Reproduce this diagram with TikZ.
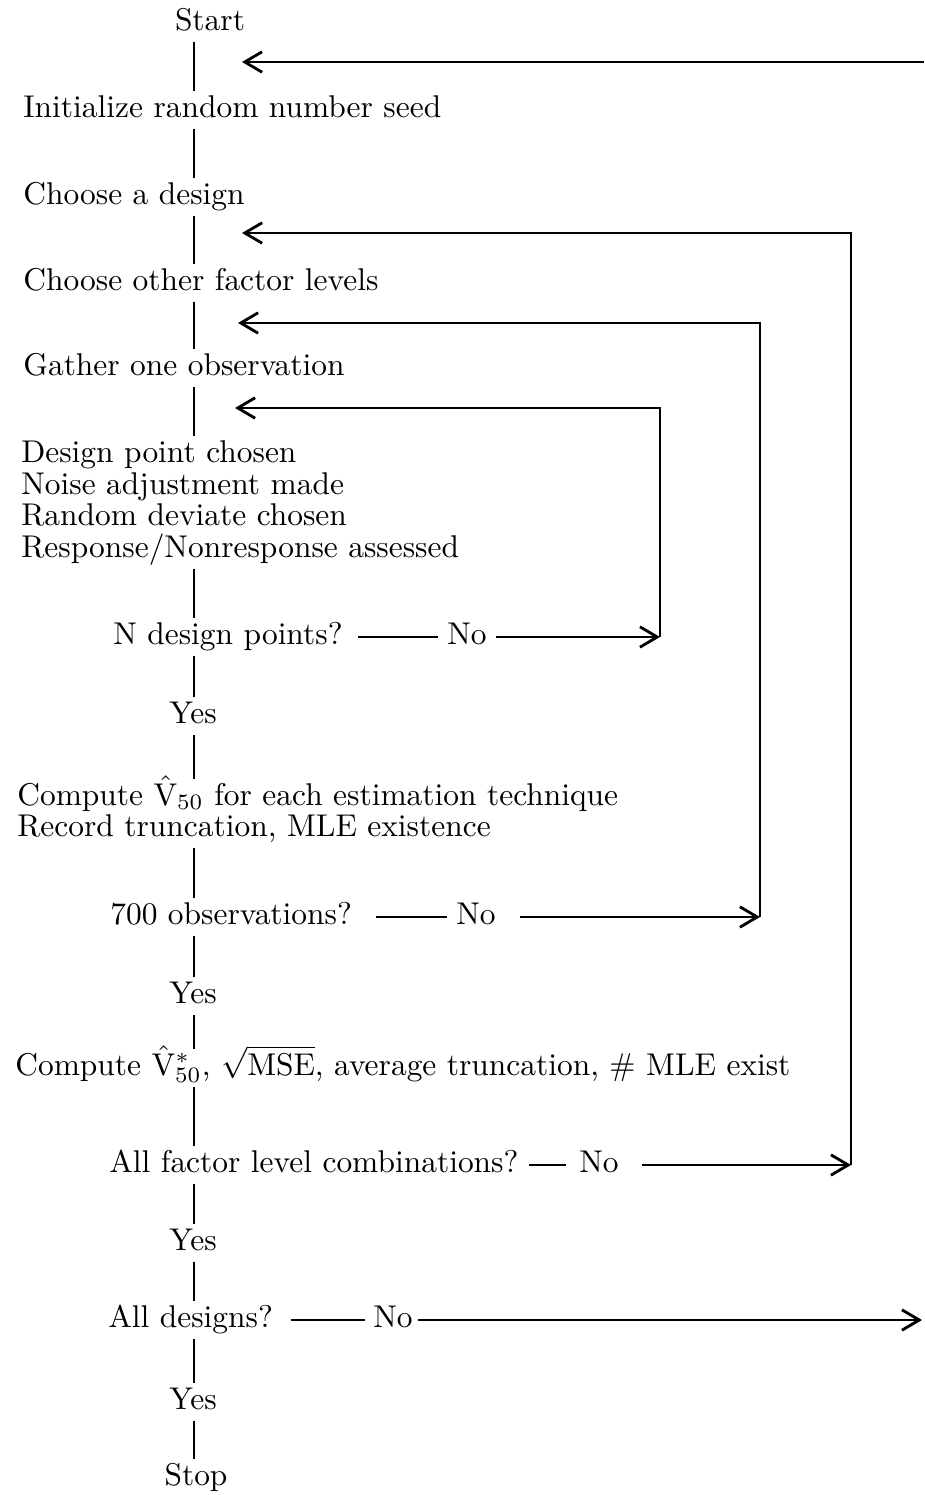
\documentclass[tikz,border=0pt]{standalone}
\usetikzlibrary{arrows.meta}
\begin{document}
\begin{tikzpicture}[x=0.318pt,y=-0.318pt,
  lbl/.style={anchor=west,inner xsep=1.5pt,inner ysep=0pt,text height=6.5pt,text depth=2pt,font=\fontsize{10}{12}\selectfont},
  ctr/.style={lbl,anchor=center},
  spine/.style={line width=0.7pt,shorten <=1.5pt,shorten >=1.5pt},
  loopline/.style={line width=0.9pt},
  arr/.style={loopline,-{Straight Barb[length=5.5pt,width=6.5pt,line width=0.9pt]}}]
\useasboundingbox (0,0) rectangle (924,1495);
\coordinate (sp) at (194,0);

% main column
\node[ctr] (start) at (210,23) {Start};
\node[lbl] (init) at (18,110) {Initialize random number seed};
\node[lbl] (design) at (18,197) {Choose a design};
\node[lbl] (other) at (18,283) {Choose other factor levels};
\node[lbl] (gather) at (18,368) {Gather one observation};
\node[lbl] (dp) at (16,455) {Design point chosen};
\node[lbl] (noise) at (16,487) {Noise adjustment made};
\node[lbl] (dev) at (16,518) {Random deviate chosen};
\node[lbl] (resp) at (16,550) {Response/Nonresponse assessed};
\node[lbl] (q1) at (108,637) {N design points?};
\node[lbl] (no1) at (442,637) {No};
\node[ctr] (y1) at (193,716) {Yes};
\node[lbl] (comp) at (12,798) {Compute $\hat{\mathrm{V}}_{50}$ for each estimation technique};
\node[lbl] (rec) at (12,829) {Record truncation, MLE existence};
\node[lbl] (q2) at (105,917) {700 observations?};
\node[lbl] (no2) at (451,917) {No};
\node[ctr] (y2) at (193,996) {Yes};
\node[lbl] (comp2) at (10,1068) {Compute $\hat{\mathrm{V}}^{*}_{50}$, $\sqrt{\mathrm{MSE}}$, average truncation, \# MLE exist};
\node[lbl] (q3) at (104,1165) {All factor level combinations?};
\node[lbl] (no3) at (574,1165) {No};
\node[ctr] (y3) at (193,1243) {Yes};
\node[lbl] (q4) at (103,1320) {All designs?};
\node[lbl] (no4) at (368,1320) {No};
\node[ctr] (y4) at (193,1402) {Yes};
\node[ctr] (stop) at (196,1478) {Stop};

% spine segments
\foreach \a/\b in {start/init,init/design,design/other,other/gather,gather/dp,
                   resp/q1,q1/y1,y1/comp,rec/q2,q2/y2,y2/comp2,comp2/q3,
                   q3/y3,y3/q4,q4/y4,y4/stop}
  \draw[spine] (\a.south -| sp) -- (\b.north -| sp);

% loop coordinates
\coordinate (t0) at (242,62);  \coordinate (e0) at (924,62);
\coordinate (t1) at (235,408); \coordinate (r1) at (660,408);
\coordinate (t2) at (238,323); \coordinate (r2) at (760,323);
\coordinate (t3) at (242,233); \coordinate (r3) at (851,233);
\coordinate (e4) at (922,1320);

% top return arrow (free end at the right edge)
\draw[arr] (e0) -- (t0);

% N design points loop
\draw[loopline,shorten <=3.3pt,shorten >=1.4pt] (q1.east) -- (no1.west);
\draw[arr,shorten <=1.4pt] (no1.east) -- (no1.east -| r1);
\draw[arr] (no1.east -| r1) -- (r1) -- (t1);

% 700 observations loop
\draw[loopline,shorten <=6pt,shorten >=1.4pt] (q2.east) -- (no2.west);
\draw[arr,shorten <=6pt] (no2.east) -- (no2.east -| r2);
\draw[arr] (no2.east -| r2) -- (r2) -- (t2);

% all factor level combinations loop
\draw[loopline,shorten <=1.7pt,shorten >=2.6pt] (q3.east) -- (no3.west);
\draw[arr,shorten <=5.8pt] (no3.east) -- (no3.east -| r3);
\draw[arr] (no3.east -| r3) -- (r3) -- (t3);

% all designs
\draw[loopline,shorten <=3.9pt,shorten >=1pt] (q4.east) -- (no4.west);
\draw[arr] (no4.east) -- (e4);
\end{tikzpicture}
\end{document}
